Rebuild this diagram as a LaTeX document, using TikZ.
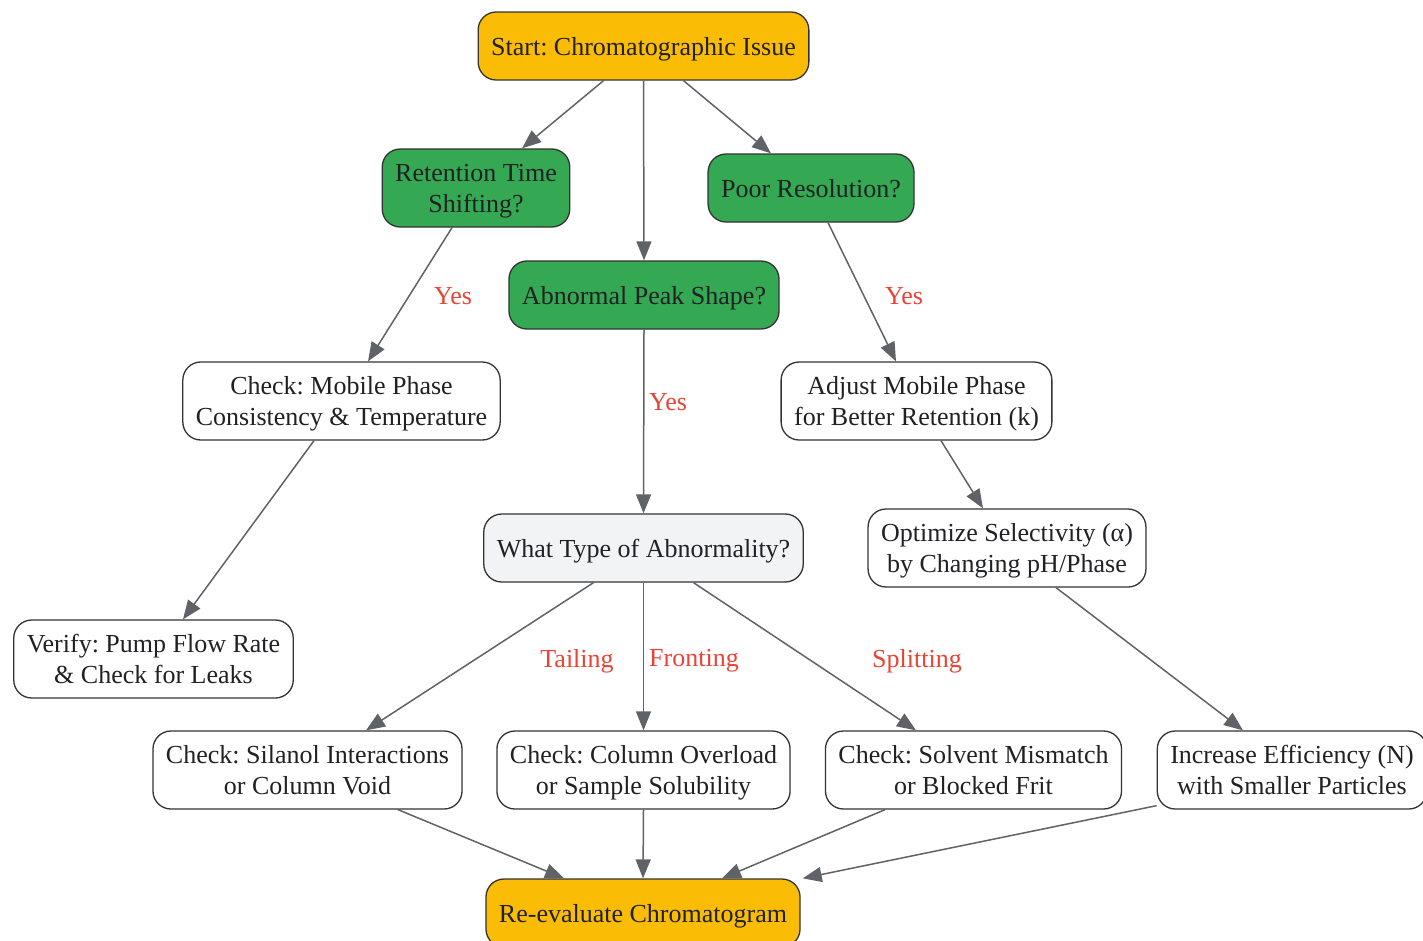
\documentclass[tikz,border=0pt]{standalone}
\usepackage{fontspec}
\setmainfont{Liberation Serif}
\usetikzlibrary{arrows.meta}
\definecolor{ink}{HTML}{202124}
\definecolor{border}{HTML}{333333}
\definecolor{termfill}{HTML}{FBBC05}
\definecolor{askfill}{HTML}{34A853}
\definecolor{kindfill}{HTML}{F1F3F4}
\definecolor{flowgray}{HTML}{5F6368}
\definecolor{lblred}{HTML}{EA4335}
\frenchspacing

\begin{document}
\begin{tikzpicture}[x=1pt,y=-1pt]
  \tikzstyle{every node}=[font=\fontsize{26}{31}\selectfont, text=ink]
  \tikzstyle{box}=[draw=border, line width=1.3pt, rounded corners=18pt, align=center,
    inner xsep=13pt, inner ysep=8.5pt, minimum height=68pt, text height=24pt, text depth=6pt]
  \tikzstyle{two}=[text height=55pt]
  \tikzstyle{term}=[box, fill=termfill]
  \tikzstyle{ask}=[box, fill=askfill]
  \tikzstyle{act}=[box, two, fill=white]
  \tikzstyle{kind}=[box, fill=kindfill]
  \tikzstyle{flow}=[every edge/.style={draw=flowgray, line width=1.5pt,
    -{Triangle[length=19pt,width=15pt]}}]
  \tikzstyle{lbl}=[text=lblred, inner sep=2pt]
  \useasboundingbox (0,0) rectangle (1423,940);
  \node[term] (start) at (643.5,46) {Start: Chromatographic Issue};
  \node[ask, two] (rt) at (476,188) {Retention Time\\Shifting?};
  \node[ask] (pr) at (811,188) {Poor Resolution?};
  \node[ask] (ab) at (644,295) {Abnormal Peak Shape?};
  \node[act] (cm) at (341.5,401) {Check: Mobile Phase\\Consistency \& Temperature};
  \node[act] (ad) at (916.5,401) {Adjust Mobile Phase\\for Better Retention (k)};
  \node[kind] (wt) at (643.5,548) {What Type of Abnormality?};
  \node[act] (op) at (1007,548) {Optimize Selectivity (α)\\by Changing pH/Phase};
  \node[act] (vf) at (153.5,659) {Verify: Pump Flow Rate\\\& Check for Leaks};
  \node[act] (sl) at (307.5,770) {Check: Silanol Interactions\\or Column Void};
  \node[act] (co) at (643.5,770) {Check: Column Overload\\or Sample Solubility};
  \node[act] (sv) at (973.5,770) {Check: Solvent Mismatch\\or Blocked Frit};
  \node[act] (ie) at (1292,770) {Increase Efficiency (N)\\with Smaller Particles};
  \node[term] (re) at (643,913) {Re-evaluate Chromatogram};
  \node[lbl] (yrt) at (453,296) {Yes};
  \node[lbl] (ypr) at (904,296) {Yes};
  \node[lbl] (yab) at (668,402) {Yes};
  \node[lbl] (tail) at (577,661) {Tailing};
  \node[lbl] (front) at (694,661) {Fronting};
  \node[lbl] (split) at (917,661) {Splitting};
  \path[flow]
    ([xshift=-40pt]start.south) edge ([xshift=46pt]rt.north)
    (start.south) edge (ab.north)
    ([xshift=40pt]start.south) edge ([xshift=-40pt]pr.north)
    ([xshift=-24pt]rt.south) edge ([xshift=26.5pt]cm.north)
    ([xshift=17pt]pr.south) edge ([xshift=-20.5pt]ad.north)
    (ab.south) edge (wt.north)
    ([xshift=-27.5pt]cm.south) edge ([xshift=29.5pt]vf.north)
    ([xshift=24.5pt]ad.south) edge ([xshift=-24pt]op.north)
    ([xshift=-50pt]wt.south) edge ([xshift=58.5pt]sl.north)
    (wt.south) edge (co.north)
    ([xshift=50pt]wt.south) edge ([xshift=-57.5pt]sv.north)
    ([xshift=49pt]op.south) edge ([xshift=-49pt]ie.north)
    ([xshift=90.5pt]sl.south) edge ([xshift=-79pt]re.north)
    (co.south) edge (re.north)
    ([xshift=-88.5pt]sv.south) edge ([xshift=79pt]re.north)
    ([yshift=4pt]ie.south west) edge ([xshift=2pt]re.north east);
\end{tikzpicture}
\end{document}
